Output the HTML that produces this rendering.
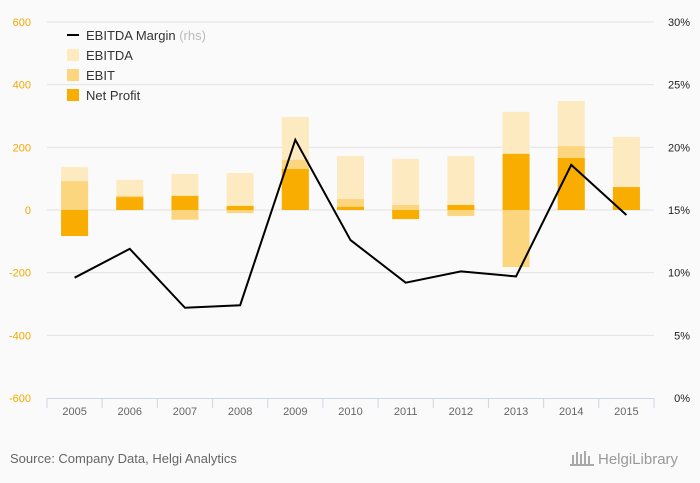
<!DOCTYPE html>
<html><head><meta charset="utf-8"><style>
body{margin:0;background:#fafafa;font-family:"Liberation Sans",sans-serif}
svg{display:block}
</style></head><body>
<svg id="c" width="700" height="483" xmlns="http://www.w3.org/2000/svg">
<rect width="700" height="483" fill="#fafafa"/>
<g id="grid"></g><g id="bars"></g><g id="line"></g><g id="axes"></g>
<g font-size="13" fill="#333">
<line x1="67" y1="35" x2="79" y2="35" stroke="#000" stroke-width="2"/>
<text x="86" y="40">EBITDA Margin <tspan fill="#bbb">(rhs)</tspan></text>
<rect x="67" y="49" width="12" height="12" fill="#fdeac0"/><text x="86" y="60">EBITDA</text>
<rect x="67" y="69" width="12" height="12" fill="#fcd67f"/><text x="86" y="80">EBIT</text>
<rect x="67" y="89" width="12" height="12" fill="#f8ad00"/><text x="86" y="100">Net Profit</text>
</g>
<text x="10" y="463" font-size="13" fill="#666">Source: Company Data, Helgi Analytics</text>
<text x="598" y="464" font-size="15" fill="#999">HelgiLibrary</text>
<g fill="#aaa"><rect x="572" y="455" width="2" height="10"/><rect x="576" y="452" width="2" height="13"/><rect x="580" y="454" width="2" height="11"/><rect x="584" y="451" width="2" height="14"/><rect x="588" y="456" width="2" height="9"/><rect x="570" y="464" width="24" height="2"/></g>
</svg>
<script>
const categories=["2005","2006","2007","2008","2009","2010","2011","2012","2013","2014","2015"];
const ebitda=[137,96,115,118,297,172,163,172,313,348,233];
const ebit=[92,45,-31,-10,160,35,16,-19,-182,204,73];
const netProfit=[-83,41,45,13,131,10,-29,16,179,166,73];
const margin=[9.6,11.9,7.2,7.4,20.6,12.6,9.2,10.1,9.7,18.6,14.6];
const leftTicks=[600,400,200,0,-200,-400,-600];
const rightTicks=["30%","25%","20%","15%","10%","5%","0%"];
const NS="http://www.w3.org/2000/svg";
const X0=47,X1=654,Y0=22,Y1=398;
const bw=(X1-X0)/categories.length;
const y=v=>Y0+(600-v)/1200*(Y1-Y0);
const yr=p=>Y1-p/30*(Y1-Y0);
const xc=i=>X0+bw*(i+0.5);
function mk(t,a,p){const e=document.createElementNS(NS,t);for(const k in a)e.setAttribute(k,a[k]);document.getElementById(p).appendChild(e);return e;}
leftTicks.forEach((t,i)=>{
 const yy=y(t);
 if(t!==-600){const g=mk("line",{x1:X0,x2:X1,y1:yy,y2:yy,stroke:"#e3e3e3","stroke-width":1},"grid");
 
 }
 const l=mk("text",{x:31,y:yy+4,"text-anchor":"end","font-size":11,fill:"#f5a800"},"axes");l.textContent=t;
 
 
 const r=mk("text",{x:690,y:yy+4,"text-anchor":"end","font-size":11,fill:"#222"},"axes");r.textContent=rightTicks[i];
 
 
});
const ax=mk("line",{x1:X0,x2:X1,y1:Y1+0.5,y2:Y1+0.5,stroke:"#cdd6e6"},"axes");


for(let i=0;i<=categories.length;i++){const tk=mk("line",{x1:X0+bw*i,x2:X0+bw*i,y1:Y1,y2:Y1+10,stroke:"#cdd6e6"},"axes");
 
 }
categories.forEach((c,i)=>{
 const t=mk("text",{x:xc(i),y:Y1+17,"text-anchor":"middle","font-size":11,fill:"#666"},"axes");t.textContent=c;
 
 
 [[ebitda,"#fdeac0","ebitda-bar"],[ebit,"#fcd67f","ebit-bar"],[netProfit,"#f8ad00","net-profit-bar"]].forEach(([arr,col,nm])=>{
  const v=arr[i];const top=Math.min(y(v),y(0));const h=Math.abs(y(v)-y(0));
  const b=mk("rect",{x:xc(i)-13.5,y:top,width:27,height:h,fill:col},"bars");
  
  
 });
});
const pl=mk("polyline",{points:margin.map((m,i)=>xc(i)+","+yr(m)).join(" "),fill:"none",stroke:"#000","stroke-width":2},"line");


</script>
</body></html>
